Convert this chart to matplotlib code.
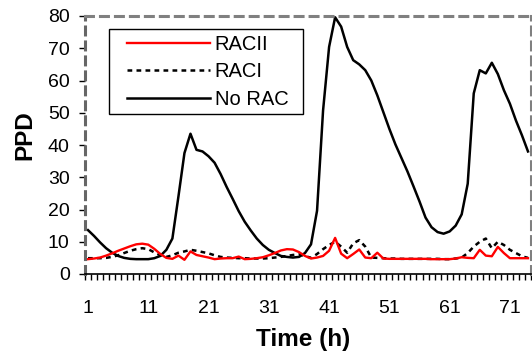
import numpy as np
import matplotlib
matplotlib.use('Agg')
import matplotlib.pyplot as plt
from matplotlib.patches import Rectangle

plt.rcParams['font.family'] = ['Liberation Sans', 'DejaVu Sans']

# hourly PPD values, hours 1..74
hours = list(range(1, 75))

no_rac = [13.6, 11.8, 9.8, 8.0, 6.6, 5.6, 5.0, 4.7, 4.6, 4.6,
          4.6, 4.9, 5.6, 7.5, 11.0, 24.0, 37.5, 43.5, 38.5, 38.0,
          36.5, 34.5, 31.0, 27.0, 23.3, 19.5, 16.2, 13.5, 11.0, 9.0,
          7.5, 6.5, 5.6, 5.3, 5.1, 5.3, 6.5, 9.2, 19.6, 50.7,
          70.4, 79.6, 76.7, 70.4, 66.3, 65.0, 63.2, 60.0, 55.4, 50.2,
          45.0, 40.2, 36.0, 31.8, 27.2, 22.5, 17.5, 14.5, 13.0, 12.5,
          13.2, 15.0, 18.5, 28.0, 56.0, 63.2, 62.2, 65.5, 62.0, 57.0,
          52.8, 47.6, 43.0, 38.0]

rac_i = [4.9, 4.9, 4.9, 5.0, 5.3, 5.8, 6.5, 7.2, 7.7, 8.0,
         7.7, 6.7, 5.8, 5.3, 5.8, 6.6, 7.0, 7.5, 7.2, 6.8,
         6.4, 5.8, 5.3, 5.1, 5.0, 4.9, 4.9, 4.8, 4.8, 4.8,
         4.9, 5.1, 5.3, 5.6, 5.9, 6.1, 5.6, 5.0, 6.2, 7.7,
         9.0, 10.0, 8.5, 6.6, 9.5, 10.5, 8.5, 5.1, 5.0, 4.9,
         4.8, 4.8, 4.7, 4.7, 4.7, 4.7, 4.7, 4.7, 4.7, 4.6,
         4.6, 4.8, 5.1, 6.5, 8.5, 10.0, 11.0, 8.0, 10.0, 9.0,
         7.5, 6.5, 5.5, 5.0]

rac_ii = [4.6, 4.8, 5.1, 5.7, 6.4, 7.2, 7.9, 8.6, 9.2, 9.4,
          9.1, 7.8, 6.2, 5.0, 4.7, 5.7, 4.4, 7.0, 5.9, 5.5,
          5.1, 4.6, 4.8, 4.9, 4.9, 5.4, 4.6, 4.7, 4.9, 5.2,
          5.8, 6.5, 7.3, 7.7, 7.6, 6.8, 5.6, 4.8, 5.1, 5.6,
          7.2, 11.2, 6.3, 4.9, 6.2, 7.6, 5.1, 4.9, 6.6, 4.8,
          4.7, 4.7, 4.7, 4.7, 4.7, 4.7, 4.7, 4.6, 4.6, 4.6,
          4.6, 4.8, 5.2, 5.0, 4.9, 7.5, 5.7, 5.5, 8.4, 6.5,
          4.9, 4.9, 4.9, 4.9]

x_labels = [1, 11, 21, 31, 41, 51, 61, 71]
y_ticks = [0, 10, 20, 30, 40, 50, 60, 70, 80]

fig = plt.figure(figsize=(5.32, 3.6), dpi=100)
ax = fig.add_axes([85/532, 86/360, 446/532, 258/360])

l3, = ax.plot(hours, no_rac, color='black', linewidth=1.8)
l2, = ax.plot(hours, rac_i, color='black', linewidth=1.8, linestyle=(0, (1.9, 1.7)))
l1, = ax.plot(hours, rac_ii, color='#ff0000', linewidth=1.7)

ax.set_xlim(0.5, 74.5)
ax.set_ylim(0, 80)

ax.set_xticks(x_labels)
ax.set_xticklabels([str(v) for v in x_labels])
ax.set_xticks(np.arange(0.5, 75, 1), minor=True)
ax.tick_params(axis='x', which='major', length=0, pad=19, labelsize=14)
ax.tick_params(axis='x', which='minor', length=4.3, width=1, direction='out', color='black')

ax.set_yticks(y_ticks)
ax.tick_params(axis='y', which='major', length=4, width=1, direction='out', pad=7, labelsize=14)

# plot area border: dashed gray, bottom axis solid black
for side in ['top', 'right', 'left']:
    ax.spines[side].set_color('#808080')
    ax.spines[side].set_linewidth(2.2)
    ax.spines[side].set_linestyle((0, (2.6, 2.3)))
ax.spines['left'].set_color('#666666')
ax.spines['bottom'].set_color('black')
ax.spines['bottom'].set_linewidth(1.2)

ax.set_xlabel('Time (h)', fontsize=17.5, fontweight='bold')
ax.xaxis.set_label_coords(0.489, -0.21)
ax.set_ylabel('PPD', fontsize=17.5, fontweight='bold')
ax.yaxis.set_label_coords(-0.11, 0.539)

# legend box drawn separately (wider side padding than matplotlib gives)
box = Rectangle((109/532, 1 - 114/360), 194/532, 85/360,
                transform=fig.transFigure, facecolor='white', edgecolor='black',
                linewidth=1.0, zorder=4, clip_on=False)
ax.add_patch(box)

leg = ax.legend([l1, l2, l3], ['RACII', 'RACI', 'No RAC'],
                loc='upper left', bbox_to_anchor=(127/532, 1 - 35/360),
                bbox_transform=fig.transFigure, borderaxespad=0, borderpad=0,
                fontsize=14.5, handlelength=4.1, handletextpad=0.25,
                labelspacing=0.42, frameon=False)
leg.set_zorder(5)

fig.savefig('out.png', dpi=100)
plt.close()
